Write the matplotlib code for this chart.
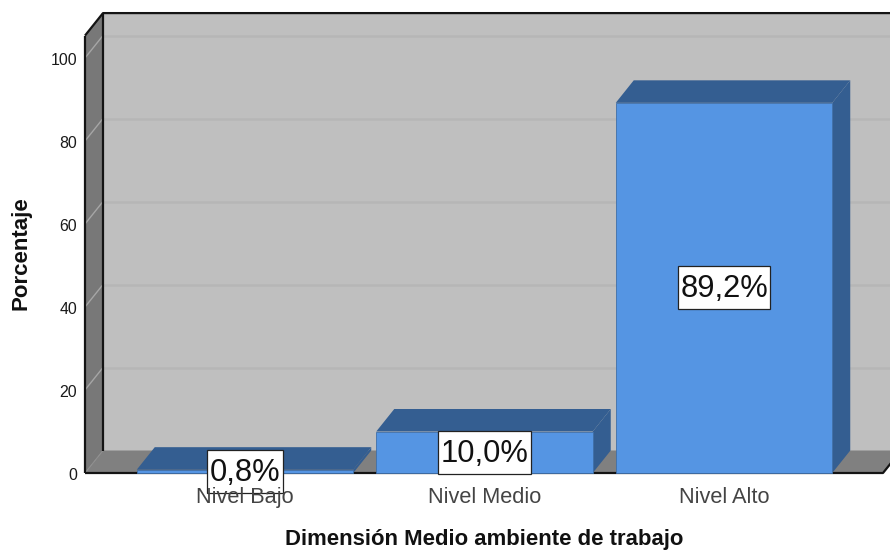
import matplotlib
matplotlib.use("Agg")
import matplotlib.pyplot as plt
from matplotlib.patches import Polygon, Rectangle
from matplotlib.transforms import ScaledTranslation

plt.rcParams['font.family'] = ['Liberation Sans', 'DejaVu Sans']

categories = ["Nivel Bajo", "Nivel Medio", "Nivel Alto"]
values = [0.8, 10.0, 89.2]
value_labels = ["0,8%", "10,0%", "89,2%"]
y_ticks = [0, 20, 40, 60, 80, 100]
x_title = "Dimensión Medio ambiente de trabajo"
y_title = "Porcentaje"

W, H = 890, 551
LEFT, RIGHT, BOTTOM = 85, 883, 473
PX_PER_CAT, PX_PER_UNIT = 239.5, 4.15
CENTER0 = 245
YMAX = 105.4
DX = 18 / PX_PER_CAT
DY = 22.5 / PX_PER_UNIT
BAR_W = 216.5 / PX_PER_CAT

C_BACK, C_WALL, C_FLOOR = "#bfbfbf", "#787878", "#808080"
C_FRONT, C_DARK = "#5595e3", "#345e91"
C_GRID_BACK, C_GRID_WALL = "#b6b6b6", "#a6a6a6"

fig = plt.figure(figsize=(W / 100, H / 100), dpi=100)
top_px = BOTTOM - YMAX * PX_PER_UNIT
ax = fig.add_axes([LEFT / W, (H - BOTTOM) / H, (RIGHT - LEFT) / W, (BOTTOM - top_px) / H])
x0 = -(CENTER0 - LEFT) / PX_PER_CAT
x1 = (RIGHT - CENTER0) / PX_PER_CAT
ax.set_xlim(x0, x1)
ax.set_ylim(0, YMAX)
ax.patch.set_visible(False)
for s in ax.spines.values():
    s.set_visible(False)


def poly(pts, fc, ec="none", lw=0, z=1):
    ax.add_patch(Polygon(pts, closed=True, facecolor=fc, edgecolor=ec, linewidth=lw,
                         zorder=z, clip_on=False))


def line(xs, ys, c="#141414", lw=1.6, z=2):
    ax.plot(xs, ys, color=c, lw=lw, zorder=z, clip_on=False, solid_capstyle="butt")


# walls and floor
poly([(x0 + DX, DY), (x1 + DX, DY), (x1 + DX, YMAX + DY), (x0 + DX, YMAX + DY)], C_BACK, z=1)
poly([(x0, 0), (x0 + DX, DY), (x0 + DX, YMAX + DY), (x0, YMAX)], C_WALL, z=1)
poly([(x0, 0), (x1, 0), (x1 + DX, DY), (x0 + DX, DY)], C_FLOOR, z=1)

# gridlines
for t in y_ticks[1:]:
    line([x0 + DX, x1 + DX], [t + DY, t + DY], C_GRID_BACK, 1.8, 1.5)
    line([x0, x0 + DX], [t, t + DY], C_GRID_WALL, 1.0, 1.5)
line([x0, x0 + DX], [0, DY], "#8e8e8e", 0.8, 1.5)

# frame
line([x0 + DX, x0 + DX], [DY, YMAX + DY], z=2)
line([x0, x0], [0, YMAX], z=2)
line([x0, x0 + DX, x1 + DX], [YMAX, YMAX + DY, YMAX + DY], z=2)
line([x0, x1, x1 + DX], [0, 0, DY], z=2)

# bars
xs = list(range(len(categories)))
ax.bar(xs, values, width=BAR_W, color=C_FRONT, edgecolor="#3f6fa8", linewidth=0.6,
       zorder=4, clip_on=False)
for x, v in zip(xs, values):
    l, r = x - BAR_W / 2, x + BAR_W / 2
    poly([(l, v), (r, v), (r + DX, v + DY), (l + DX, v + DY)], C_DARK, z=3)
    poly([(r, 0), (r + DX, DY), (r + DX, v + DY), (r, v)], C_DARK, z=3)

# value labels: box is the text width plus side padding, with a fixed height
renderer = fig.canvas.get_renderer()
BOX_H = 43 / PX_PER_UNIT
TEXT_DROP = 1.5 / PX_PER_UNIT
for x, v, s in zip(xs, values, value_labels):
    t = ax.text(x, v / 2 - TEXT_DROP, s, ha="center", va="center", fontsize=22.2,
                color="#111111", zorder=6, clip_on=False)
    box_w = (t.get_window_extent(renderer).width + 5) / PX_PER_CAT
    ax.add_patch(Rectangle((x - box_w / 2, v / 2 - BOX_H / 2), box_w, BOX_H, facecolor="white",
                           edgecolor="#222222", linewidth=0.9, zorder=5, clip_on=False))

# axes text
ax.set_xticks(xs)
ax.set_xticklabels(categories, fontsize=15.7, color="#444444")
ax.set_yticks(y_ticks)
ax.set_yticklabels([str(t) for t in y_ticks], fontsize=11.4, color="#1a1a1a")
ax.tick_params(axis="both", length=0)
ax.tick_params(axis="x", pad=10)
ax.tick_params(axis="y", pad=5.8)
ax.xaxis.set_zorder(10)
shift = ScaledTranslation(0, -1 / 100, fig.dpi_scale_trans)
for lab in ax.get_yticklabels():
    lab.set_transform(lab.get_transform() + shift)

fig.text(484 / W, 1 - 540 / H, x_title, ha="center", va="center", fontsize=15.9,
         fontweight="bold", color="#111111")
fig.text(21 / W, 1 - 253 / H, y_title, ha="center", va="center", rotation=90, fontsize=16.0,
         fontweight="bold", color="#111111")

fig.savefig("out.png", dpi=100, facecolor="white")
